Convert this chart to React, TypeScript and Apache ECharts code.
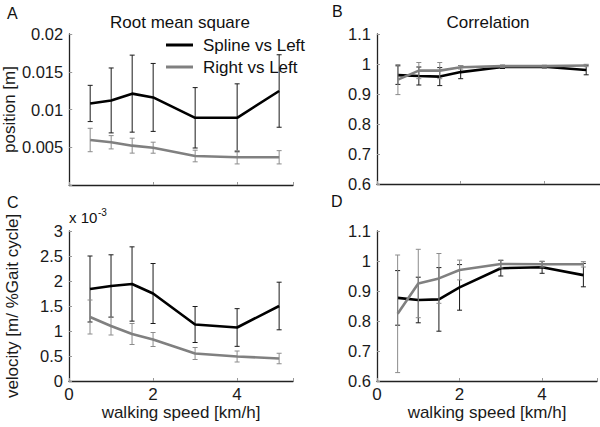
import React, { useEffect, useRef } from "react";
import * as echarts from "echarts";

// walking speeds [km/h]
const speeds = [0.5, 1, 1.5, 2, 3, 4, 5];

// A: Root mean square, position [m]
const posRmsSplineMean = [0.0108, 0.0112, 0.0121, 0.0116, 0.0089, 0.0089, 0.01245];
const posRmsSplineSd = [0.0024, 0.0043, 0.0051, 0.0045, 0.004, 0.0045, 0.0048];
const posRmsRightMean = [0.00596, 0.00566, 0.00521, 0.00494, 0.00384, 0.00367, 0.00367];
const posRmsRightSd = [0.00155, 0.00088, 0.00099, 0.00073, 0.00077, 0.00088, 0.00088];

// B: Correlation, position
const posCorrSplineMean = [0.963, 0.96, 0.958, 0.973, 0.99, 0.991, 0.98];
const posCorrSplineSd = [0.031, 0.03, 0.03, 0.022, 0.005, 0.004, 0.016];
const posCorrRightMean = [0.948, 0.978, 0.978, 0.989, 0.993, 0.993, 0.995];
const posCorrRightSd = [0.05, 0.027, 0.027, 0.006, 0.004, 0.003, 0.004];

// C: Root mean square, velocity [x 10^-3 m/ %Gait cycle]
const velRmsSplineMean = [1.84, 1.9, 1.94, 1.75, 1.13, 1.07, 1.5];
const velRmsSplineSd = [0.66, 0.624, 0.743, 0.6, 0.36, 0.377, 0.476];
const velRmsRightMean = [1.28, 1.1, 0.94, 0.83, 0.55, 0.49, 0.45];
const velRmsRightSd = [0.34, 0.18, 0.21, 0.14, 0.12, 0.11, 0.105];

// D: Correlation, velocity
const velCorrSplineMean = [0.877, 0.87, 0.872, 0.912, 0.976, 0.979, 0.953];
const velCorrSplineSd = [0.091, 0.076, 0.106, 0.076, 0.026, 0.02, 0.039];
const velCorrRightMean = [0.824, 0.925, 0.942, 0.97, 0.99, 0.989, 0.989];
const velCorrRightSd = [0.196, 0.114, 0.083, 0.033, 0.013, 0.009, 0.009];

const seriesNames = ["Spline vs Left", "Right vs Left"];

const FONT = "'Liberation Sans Narrow', 'Arial Narrow', 'Liberation Sans', Arial, sans-serif";
const BLACK = "#000000";
const GRAY = "#808080";
const BLACK_ERR = "#1a1a1a";
const GRAY_ERR = "#8c8c8c";

function lineSeries(name: string, idx: number, means: number[], color: string, z: number) {
  return {
    type: "line",
    name,
    xAxisIndex: idx,
    yAxisIndex: idx,
    data: speeds.map((s, i) => [s, means[i]]),
    symbol: "none",
    showSymbol: false,
    lineStyle: { color, width: 2.6 },
    itemStyle: { color },
    z,
  };
}

function errorSeries(name: string, idx: number, means: number[], sds: number[], color: string, z: number) {
  return {
    type: "custom",
    name,
    xAxisIndex: idx,
    yAxisIndex: idx,
    data: speeds.map((s, i) => [s, means[i] - sds[i], means[i] + sds[i]]),
    encode: { x: 0, y: [1, 2] },
    itemStyle: { color },
    z,
    renderItem: (_params: any, api: any) => {
      const lo = api.coord([api.value(0), api.value(1)]);
      const hi = api.coord([api.value(0), api.value(2)]);
      const hw = 2.5;
      const style = { stroke: color, lineWidth: 1, fill: "none" };
      return {
        type: "group",
        children: [
          { type: "line", shape: { x1: lo[0], y1: lo[1], x2: hi[0], y2: hi[1] }, style },
          { type: "line", shape: { x1: lo[0] - hw, y1: lo[1], x2: lo[0] + hw, y2: lo[1] }, style },
          { type: "line", shape: { x1: hi[0] - hw, y1: hi[1], x2: hi[0] + hw, y2: hi[1] }, style },
        ],
      };
    },
  };
}

const axisLineStyle = { lineStyle: { color: "#222", width: 1.3 } };
const axisTickStyle = { inside: true, length: 3, lineStyle: { color: "#999", width: 1 } };

function xAxis(idx: number, showLabels: boolean) {
  return {
    type: "value",
    gridIndex: idx,
    min: 0,
    max: 5.33,
    interval: 2,
    axisLine: axisLineStyle,
    axisTick: axisTickStyle,
    splitLine: { show: false },
    axisLabel: {
      show: showLabels,
      fontSize: 17,
      fontFamily: FONT,
      color: "#1a1a1a",
      margin: 5,
      formatter: (v: number) => (Math.abs(v % 2) < 1e-9 ? String(v) : ""),
    },
    name: showLabels ? "walking speed [km/h]" : "",
    nameLocation: "middle",
    nameGap: 21,
    nameTextStyle: { fontSize: 17, fontFamily: FONT, color: "#1a1a1a" },
  };
}

function yAxis(
  idx: number,
  min: number,
  max: number,
  interval: number,
  fmt: (v: number) => string,
  name: string
) {
  return {
    type: "value",
    gridIndex: idx,
    min,
    max,
    interval,
    axisLine: { show: true, ...axisLineStyle },
    axisTick: axisTickStyle,
    splitLine: { show: false },
    axisLabel: { fontSize: 16.5, fontFamily: FONT, color: "#1a1a1a", margin: 6, formatter: fmt },
    name,
    nameLocation: "middle",
    nameGap: 48,
    nameTextStyle: { fontSize: 17, fontFamily: FONT, color: "#1a1a1a" },
  };
}

const fmtA = (v: number) => (Math.abs(v) < 1e-12 ? "" : String(+v.toFixed(4)));
const fmt2 = (v: number) => String(+v.toFixed(2));

function text(t: string, x: number, y: number, size: number, align = "left") {
  return {
    type: "text",
    x,
    y,
    style: { text: t, fontSize: size, fontFamily: FONT, fill: "#111", align, verticalAlign: "middle" },
  };
}

export default function App() {
  const ref = useRef<HTMLDivElement>(null);
  useEffect(() => {
    if (!ref.current) return;
    const chart = echarts.init(ref.current, undefined, { renderer: "svg" });
    const option = {
      animation: false,
      backgroundColor: "#ffffff",
      grid: [
        { left: 69, top: 34, width: 224, height: 151 },
        { left: 377, top: 34, width: 224, height: 150 },
        { left: 69, top: 231, width: 224, height: 150 },
        { left: 377, top: 231, width: 224, height: 150 },
      ],
      xAxis: [xAxis(0, false), xAxis(1, false), xAxis(2, true), xAxis(3, true)],
      yAxis: [
        yAxis(0, 0, 0.02, 0.005, fmtA, "position [m]"),
        yAxis(1, 0.6, 1.1, 0.1, fmt2, ""),
        yAxis(2, 0, 3, 0.5, fmt2, "velocity [m/ %Gait cycle]"),
        yAxis(3, 0.6, 1.1, 0.1, fmt2, ""),
      ],
      legend: {
        data: seriesNames,
        orient: "vertical",
        left: 166,
        top: 35,
        padding: 0,
        itemGap: 2,
        itemWidth: 27,
        itemHeight: 3,
        icon: "rect",
        textStyle: { fontSize: 17, fontFamily: FONT, color: "#111", lineHeight: 20, padding: [0, 0, 0, 5] },
        selectedMode: false,
      },
      graphic: [
        text("A", 7, 13, 16),
        text("B", 332, 11, 16),
        text("C", 7, 202, 16),
        text("D", 331, 201, 16),
        text("Root mean square", 180, 22, 17, "center"),
        text("Correlation", 488, 22, 17, "center"),
        text("x 10", 69, 217, 15),
        text("-3", 98, 212, 10),
      ],
      series: [
        lineSeries(seriesNames[0], 0, posRmsSplineMean, BLACK, 2),
        lineSeries(seriesNames[1], 0, posRmsRightMean, GRAY, 4),
        lineSeries(seriesNames[0], 1, posCorrSplineMean, BLACK, 2),
        lineSeries(seriesNames[1], 1, posCorrRightMean, GRAY, 4),
        lineSeries(seriesNames[0], 2, velRmsSplineMean, BLACK, 2),
        lineSeries(seriesNames[1], 2, velRmsRightMean, GRAY, 4),
        lineSeries(seriesNames[0], 3, velCorrSplineMean, BLACK, 2),
        lineSeries(seriesNames[1], 3, velCorrRightMean, GRAY, 4),
        errorSeries("Spline vs Left SD A", 0, posRmsSplineMean, posRmsSplineSd, BLACK_ERR, 1),
        errorSeries("Right vs Left SD A", 0, posRmsRightMean, posRmsRightSd, GRAY_ERR, 3),
        errorSeries("Spline vs Left SD B", 1, posCorrSplineMean, posCorrSplineSd, BLACK_ERR, 1),
        errorSeries("Right vs Left SD B", 1, posCorrRightMean, posCorrRightSd, GRAY_ERR, 3),
        errorSeries("Spline vs Left SD C", 2, velRmsSplineMean, velRmsSplineSd, BLACK_ERR, 1),
        errorSeries("Right vs Left SD C", 2, velRmsRightMean, velRmsRightSd, GRAY_ERR, 3),
        errorSeries("Spline vs Left SD D", 3, velCorrSplineMean, velCorrSplineSd, BLACK_ERR, 1),
        errorSeries("Right vs Left SD D", 3, velCorrRightMean, velCorrRightSd, GRAY_ERR, 3),
      ],
    };
    chart.setOption(option as any);
    return () => chart.dispose();
  }, []);
  return (
    <div
      ref={ref}
      style={{ position: "fixed", left: 0, top: 0, width: 600, height: 427, background: "#fff" }}
    />
  );
}
